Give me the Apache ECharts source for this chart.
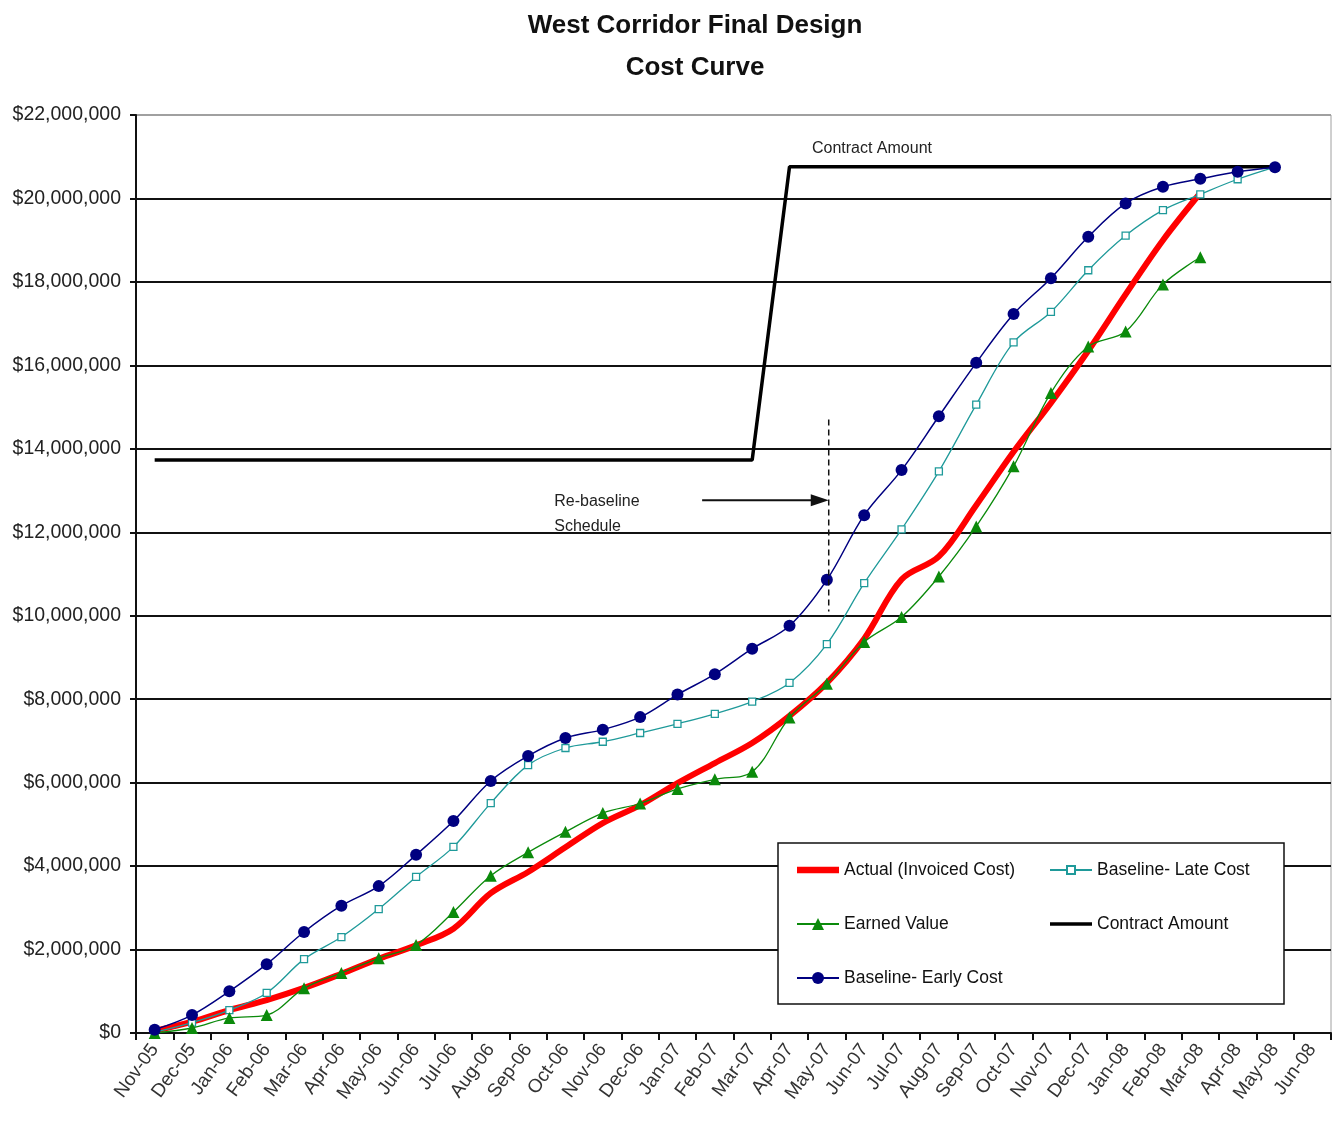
<!DOCTYPE html>
<html>
<head>
<meta charset="utf-8">
<script src="https://cdn.jsdelivr.net/npm/echarts@6/dist/echarts.min.js"></script>
<style>
html,body{margin:0;padding:0;background:#fff;}
#chart{width:1338px;height:1135px;}
</style>
</head>
<body>
<div id="chart"></div>
<script>
const categories = ['Nov-05','Dec-05','Jan-06','Feb-06','Mar-06','Apr-06','May-06','Jun-06','Jul-06','Aug-06','Sep-06','Oct-06','Nov-06','Dec-06','Jan-07','Feb-07','Mar-07','Apr-07','May-07','Jun-07','Jul-07','Aug-07','Sep-07','Oct-07','Nov-07','Dec-07','Jan-08','Feb-08','Mar-08','Apr-08','May-08','Jun-08'];

const actualInvoiced = [50000,270000,550000,790000,1080000,1420000,1780000,2100000,2500000,3350000,3860000,4450000,5030000,5460000,5990000,6470000,6950000,7600000,8390000,9450000,10870000,11420000,12650000,13930000,15100000,16350000,17700000,19000000,20130000];

const baselineLate = [20000,250000,550000,960000,1770000,2300000,2970000,3740000,4460000,5510000,6420000,6830000,6980000,7190000,7410000,7650000,7940000,8390000,9320000,10780000,12070000,13460000,15060000,16550000,17280000,18280000,19110000,19720000,20100000,20460000,20750000];

const earnedValue = [0,120000,360000,430000,1070000,1440000,1790000,2110000,2900000,3770000,4330000,4820000,5270000,5500000,5850000,6080000,6260000,7560000,8370000,9370000,9970000,10940000,12140000,13580000,15340000,16450000,16810000,17940000,18590000];

const contractAmount = [13730000,13730000,13730000,13730000,13730000,13730000,13730000,13730000,13730000,13730000,13730000,13730000,13730000,13730000,13730000,13730000,13730000,20760000,20760000,20760000,20760000,20760000,20760000,20760000,20760000,20760000,20760000,20760000,20760000,20760000,20760000];

const baselineEarly = [80000,430000,1000000,1650000,2420000,3050000,3520000,4270000,5080000,6040000,6640000,7070000,7270000,7570000,8110000,8600000,9210000,9760000,10860000,12410000,13490000,14780000,16060000,17230000,18090000,19080000,19880000,20280000,20470000,20640000,20750000];

const yTicks = {min: 0, max: 22000000, interval: 2000000};

const FONT = "'Liberation Sans',Arial,sans-serif";

function money(v){
  return '$' + Math.round(v).toString().replace(/\B(?=(\d{3})+(?!\d))/g, ',');
}

const chart = echarts.init(document.getElementById('chart'), null, {renderer:'canvas'});

const splitColors = [];
for (let i = 0; i <= 11; i++) splitColors.push(i === 11 ? '#a0a0a0' : '#111');

const legendText = {fontFamily: FONT, fontSize: 17.5, color: '#111', lineHeight: 22};

const option = {
  animation: false,
  backgroundColor: '#fff',
  title: {
    text: 'West Corridor Final Design\nCost Curve',
    left: 695,
    top: 0,
    padding: [5, 0, 0, 0],
    textAlign: 'center',
    textStyle: {fontFamily: FONT, fontSize: 26, fontWeight: 'bold', color: '#111', lineHeight: 42}
  },
  grid: {
    left: 136, right: 7, top: 115, bottom: 102,
    outerBoundsMode: 'none',
    containLabel: false,
    show: true, borderColor: '#a0a0a0', borderWidth: 1
  },
  legend: [
    {
      data: [
        {name: 'Actual (Invoiced Cost)', icon: 'path://M0,0h40v6h-40z'},
        'Earned Value',
        'Baseline- Early Cost'
      ],
      orient: 'vertical', left: 791, top: 854,
      itemWidth: 42, itemHeight: 15, itemGap: 32,
      textStyle: legendText,
      z: 6
    },
    {
      data: [
        'Baseline- Late Cost',
        {name: 'Contract Amount', icon: 'path://M0,0h40v3.5h-40z'}
      ],
      orient: 'vertical', left: 1044, top: 854,
      itemWidth: 42, itemHeight: 10, itemGap: 32,
      textStyle: legendText,
      z: 6
    }
  ],
  xAxis: {
    type: 'category',
    data: categories,
    boundaryGap: true,
    axisLine: {lineStyle: {color: '#111', width: 2}},
    axisTick: {show: true, length: 7, interval: 0, lineStyle: {color: '#111', width: 2}},
    axisLabel: {interval: 0, rotate: 54, margin: 13, fontFamily: FONT, fontSize: 19, color: '#333'},
    splitLine: {show: false}
  },
  yAxis: {
    type: 'value',
    min: yTicks.min, max: yTicks.max, interval: yTicks.interval,
    axisLine: {show: true, lineStyle: {color: '#111', width: 2}},
    axisTick: {show: true, length: 6, lineStyle: {color: '#111', width: 2}},
    axisLabel: {formatter: money, margin: 15, fontFamily: FONT, fontSize: 19.5, color: '#222'},
    splitLine: {show: true, lineStyle: {color: splitColors, width: 2}}
  },
  series: [
    {
      name: 'Contract Amount', type: 'line', data: contractAmount,
      symbol: 'none', smooth: false,
      lineStyle: {color: '#000', width: 3.5}, itemStyle: {color: '#000'}, z: 2
    },
    {
      name: 'Actual (Invoiced Cost)', type: 'line', data: actualInvoiced,
      symbol: 'none', smooth: 0.35,
      lineStyle: {color: '#ff0000', width: 6}, itemStyle: {color: '#ff0000'}, z: 3
    },
    {
      name: 'Baseline- Late Cost', type: 'line', data: baselineLate,
      symbol: 'rect', symbolSize: 7, smooth: 0.35,
      lineStyle: {color: '#1f9a9a', width: 1.3},
      itemStyle: {color: '#fff', borderColor: '#1f9a9a', borderWidth: 1.3}, z: 4
    },
    {
      name: 'Earned Value', type: 'line', data: earnedValue,
      symbol: 'triangle', symbolSize: 12, smooth: 0.35,
      lineStyle: {color: '#0b8a0b', width: 1.3},
      itemStyle: {color: '#0b8a0b'}, z: 5
    },
    {
      name: 'Baseline- Early Cost', type: 'line', data: baselineEarly,
      symbol: 'circle', symbolSize: 12, smooth: 0.35,
      lineStyle: {color: '#000080', width: 1.5},
      itemStyle: {color: '#000080'}, z: 6
    }
  ]
};

chart.setOption(option);

// annotations placed in data space
const p0 = chart.convertToPixel({gridIndex: 0}, [categories[0], 0]);
const p1 = chart.convertToPixel({gridIndex: 0}, [categories[1], 0]);
const step = p1[0] - p0[0];
function px(idx){ return p0[0] + idx * step; }
function py(v){ return chart.convertToPixel({yAxisIndex: 0}, v); }

const arrowY = py(12770000);
const arrowStart = px(14.66);
const arrowTip = px(18.05);
const dashX = px(18.05);

chart.setOption({
  graphic: [
    {
      type: 'rect', z: 3,
      shape: {x: 778, y: 843, width: 506, height: 161},
      style: {fill: '#fff', stroke: '#111', lineWidth: 1.5}
    },
    {
      type: 'text', z: 10,
      x: px(17.6), y: py(21200000),
      style: {text: 'Contract Amount', fontFamily: FONT, fontSize: 16, fill: '#222', verticalAlign: 'middle'}
    },
    {
      type: 'text', z: 10,
      x: px(10.7), y: arrowY - 11,
      style: {text: 'Re-baseline\nSchedule', fontFamily: FONT, fontSize: 16, lineHeight: 25, fill: '#222', verticalAlign: 'top'}
    },
    {
      type: 'line', z: 10,
      shape: {x1: arrowStart, y1: arrowY, x2: arrowTip - 14, y2: arrowY},
      style: {stroke: '#111', lineWidth: 2}
    },
    {
      type: 'polygon', z: 10,
      shape: {points: [[arrowTip, arrowY], [arrowTip - 18, arrowY - 6], [arrowTip - 18, arrowY + 6]]},
      style: {fill: '#111'}
    },
    {
      type: 'line', z: 10,
      shape: {x1: dashX, y1: py(14700000), x2: dashX, y2: py(10100000)},
      style: {stroke: '#111', lineWidth: 1.5, lineDash: [6, 4]}
    }
  ]
});
</script>
</body>
</html>
